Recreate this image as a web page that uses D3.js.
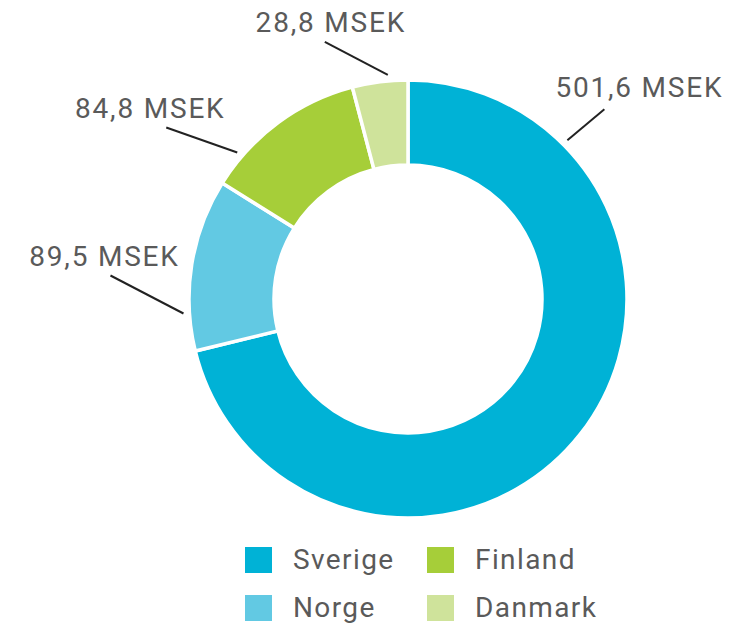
<!DOCTYPE html>
<html>
<head>
<meta charset="utf-8">
<script src="https://cdn.jsdelivr.net/npm/d3@7"></script>
<style>
  html, body { margin: 0; padding: 0; background: #fff; }
  svg { display: block; }
  text { font-family: Roboto, "DejaVu Sans", sans-serif; fill: #5a5a5a; }
</style>
</head>
<body>
<svg id="chart" width="751" height="628"></svg>
<script>
// ---- data ----
const categories = ["Sverige", "Norge", "Finland", "Danmark"];
const values = [501.6, 89.5, 84.8, 28.8];
const valueLabels = ["501,6 MSEK", "89,5 MSEK", "84,8 MSEK", "28,8 MSEK"];
const colors = ["#00b2d6", "#62c9e3", "#a6ce39", "#cfe39b"];

// ---- layout (annotation placement, not data) ----
const leaderFrac = [0.176, 0.22, 0.2, 0.65];       // where along each slice the leader starts
const leaderVec  = [[37, -31], [-73, -38], [-71, -25], [-63, -33]];
const textOff    = [[34, -12], [-7, -10], [-17, -9], [5, -10]];

const svg = d3.select("#chart");
const cx = 408, cy = 299, R = 219, r = 134;

const pie = d3.pie().sort(null).value(d => d.value);
const data = categories.map((c, i) => ({ name: c, value: values[i], i }));
const arcs = pie(data);

const arc = d3.arc().innerRadius(r).outerRadius(R);

const g = svg.append("g").attr("transform", `translate(${cx},${cy})`);

g.selectAll("path.slice")
  .data(arcs)
  .join("path")
  .attr("class", "slice")
  .attr("d", arc)
  .attr("fill", d => colors[d.data.i])
  .attr("stroke", "#fff")
  .attr("stroke-width", 3.5)
  .attr("stroke-linejoin", "miter");

// leader lines + labels
arcs.forEach(d => {
  const i = d.data.i;
  const a = d.startAngle + (d.endAngle - d.startAngle) * leaderFrac[i];
  const rr = R + 6;
  const x1 = Math.sin(a) * rr, y1 = -Math.cos(a) * rr;
  const x2 = x1 + leaderVec[i][0], y2 = y1 + leaderVec[i][1];
  g.append("line")
    .attr("x1", x1).attr("y1", y1).attr("x2", x2).attr("y2", y2)
    .attr("stroke", "#222").attr("stroke-width", 2);
  g.append("text")
    .attr("x", x2 + textOff[i][0] + 1).attr("y", y2 + textOff[i][1])
    .attr("text-anchor", "middle")
    .attr("font-size", 28)
    .attr("letter-spacing", 1.8)
    .text(valueLabels[i]);
});

// legend
const legendCols = [245, 427];
const legendRows = [547, 595];
const sq = 27;
categories.forEach((c, i) => {
  const col = Math.floor(i / 2), row = i % 2;
  const lx = legendCols[col], ly = legendRows[row];
  svg.append("rect")
    .attr("x", lx).attr("y", ly).attr("width", sq).attr("height", sq - 1)
    .attr("fill", colors[i]);
  svg.append("text")
    .attr("x", lx + sq + 21).attr("y", ly + 22)
    .attr("font-size", 28)
    .attr("letter-spacing", 1.4)
    .text(c);
});
</script>
</body>
</html>
